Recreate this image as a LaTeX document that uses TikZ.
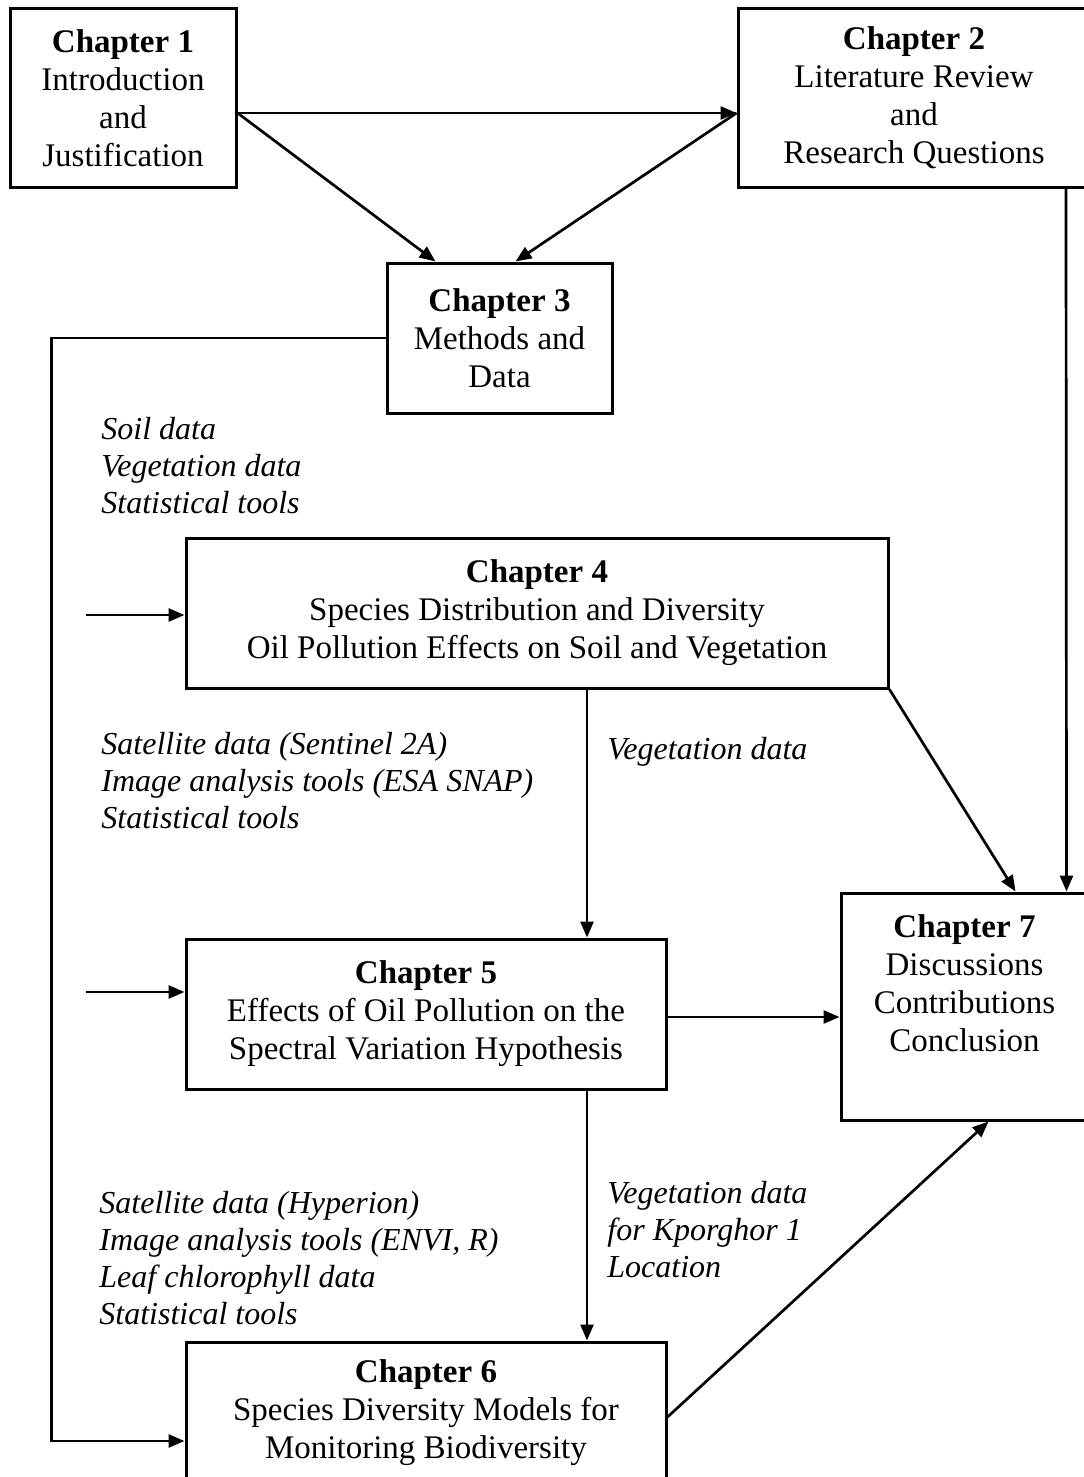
\documentclass[tikz,border=0pt]{standalone}
\usepackage{fontspec}
\setmainfont{Liberation Serif}
\usetikzlibrary{arrows.meta,positioning}

\begin{document}
\begin{tikzpicture}[x=0.5pt,y=-0.5pt,
    chapbox/.style={draw, line width=1.5pt, align=center, inner sep=0pt,
      font=\fontsize{16.5}{19}\selectfont},
    notes/.style={align=left, inner sep=0pt, font=\fontsize{16}{18.5}\selectfont\itshape},
    arr/.style={line width=1.35pt, -{Triangle[length=8pt,width=6.5pt]}}]
        \useasboundingbox (0,0) rectangle (1083,1477);
        % chapter boxes
        \node[chapbox, minimum width=113pt, minimum height=89pt] (ch1) at (123,98)
            {\textbf{Chapter 1}\\Introduction\\and\\Justification};
        \node[chapbox, minimum width=176pt, minimum height=89pt, text depth=3pt] (ch2) at (914,98)
            {\textbf{Chapter 2}\\Literature Review\\and\\Research Questions};
        \node[chapbox, minimum width=112.5pt, minimum height=75pt] (ch3) at (499.5,338)
            {\textbf{Chapter 3}\\Methods and\\Data};
        \node[chapbox, minimum width=351pt, minimum height=75pt] (ch4) at (537,613)
            {\textbf{Chapter 4}\\Species Distribution and Diversity\\Oil Pollution Effects on Soil and Vegetation};
        \node[chapbox, minimum width=240pt, minimum height=75pt] (ch5) at (426,1014)
            {\textbf{Chapter 5}\\Effects of Oil Pollution on the\\Spectral Variation Hypothesis};
        \node[chapbox, minimum width=240pt, minimum height=71pt] (ch6) at (426,1413)
            {\textbf{Chapter 6}\\Species Diversity Models for\\Monitoring Biodiversity};
        \node[chapbox, minimum width=123.5pt, minimum height=113.5pt] (ch7) at (964.5,1006.5) {};
        \node[chapbox, draw=none, below=11pt of ch7.north] (ch7txt)
            {\textbf{Chapter 7}\\Discussions\\Contributions\\Conclusion};
        % data notes
        \node[notes, anchor=west] (n3) at (101,466) {Soil data\\Vegetation data\\Statistical tools};
        \node[notes, anchor=west] (n4) at (101,781) {Satellite data (Sentinel 2A)\\Image analysis tools (ESA SNAP)\\Statistical tools};
        \node[notes, anchor=west] (n45) at (607,752) {Vegetation data};
        \node[notes, anchor=west] (n5) at (99,1258) {Satellite data (Hyperion)\\Image analysis tools (ENVI, R)\\Leaf chlorophyll data\\Statistical tools};
        \node[notes, anchor=west] (n56) at (607,1230) {Vegetation data\\for Kporghor 1\\Location};
        % inputs
        \coordinate (in4) at (86,615);
        \coordinate (in5) at (86,992);
        % arrows
        \draw[arr] ([yshift=-7.5pt]ch1.east) -- ([yshift=-7.5pt]ch2.west);
        \draw[arr] ([yshift=-7.5pt]ch1.east) -- ([xshift=-32pt]ch3.north);
        \draw[arr] ([yshift=-7.5pt]ch2.west) -- ([xshift=8pt]ch3.north);
        \draw[arr] ([xshift=76pt]ch2.south) -- ([xshift=51pt]ch7.north);
        \draw[arr] (ch3.west) -- ++(-334,0) |- ([yshift=-14pt]ch6.west);
        \draw[arr] (in4) -- (in4 -| ch4.west);
        \draw[arr] (in5) -- (in5 -| ch5.west);
        \draw[arr] ([xshift=25pt]ch4.south) -- ([xshift=80.5pt]ch5.north);
        \draw[arr] (ch4.south east) -- ([xshift=25.5pt]ch7.north);
        \draw[arr] ([yshift=-1.5pt]ch5.east) -- ([yshift=-1.5pt]ch5.east -| ch7.west);
        \draw[arr] ([xshift=80.5pt]ch5.south) -- ([xshift=80.5pt]ch6.north);
        \draw[arr] ([yshift=-2pt]ch6.east) -- ([xshift=12pt]ch7.south);
    \end{tikzpicture}
\end{document}
